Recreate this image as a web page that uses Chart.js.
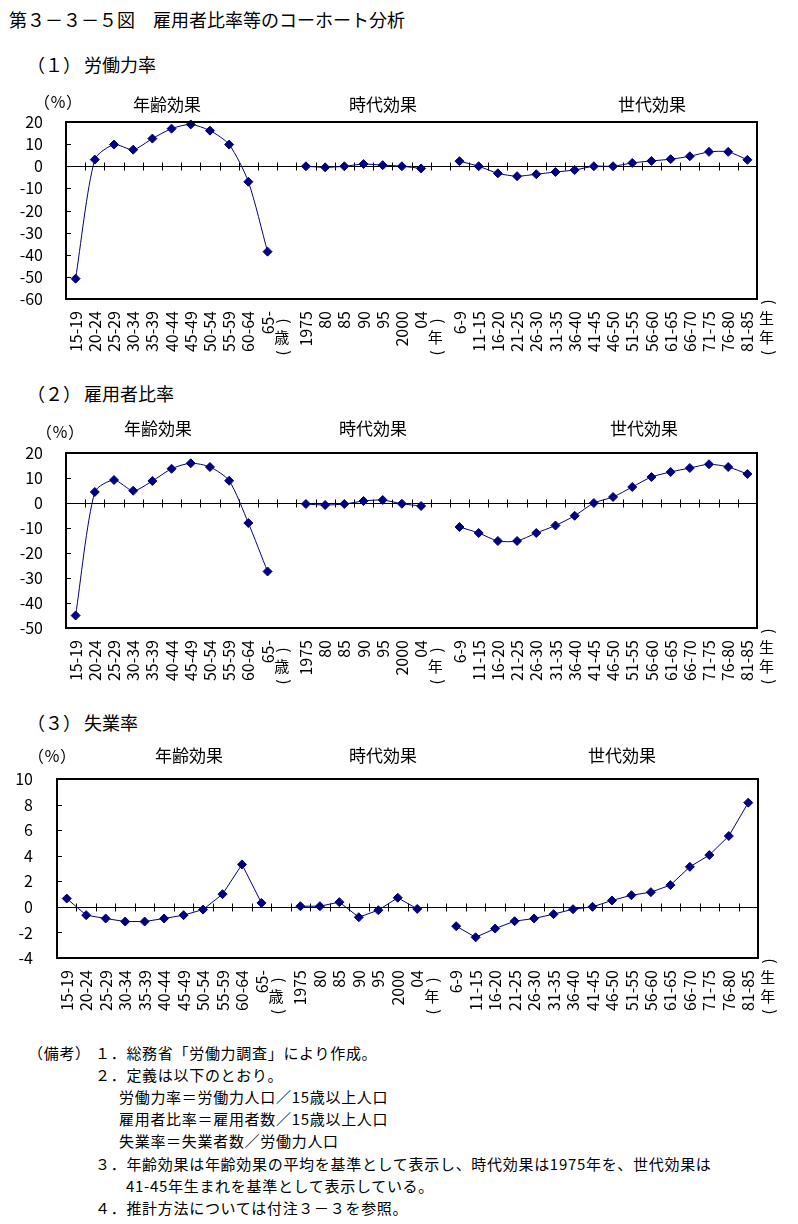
<!DOCTYPE html>
<html lang="ja">
<head>
<meta charset="utf-8">
<script src="https://cdn.jsdelivr.net/npm/chart.js@4.4.1/dist/chart.umd.min.js"></script>
<style>
  body { margin: 0; background: #fff; }
  #page { position: relative; width: 798px; height: 1224px; overflow: hidden; background: #fff;
          font-family: "Noto Sans CJK JP", sans-serif; color: #000; }
  .t { position: absolute; white-space: nowrap; line-height: 1; z-index: 2; }
  .c { transform: translateX(-50%); }
  .h0 { font-size: 18px; }
  .h1 { font-size: 18px; }
  .h1 span { margin-left: 3px; }
  .eff { font-size: 17px; }
  .pct { font-size: 16px; }
  .note { font-size: 15px; letter-spacing: 0.7px; }
  canvas { position: absolute; left: 0; z-index: 1; }
</style>
</head>
<body>
<div id="page">
  <div class="t h0" style="left:9px;top:10px">第３－３－５図　雇用者比率等のコーホート分析</div>

  <!-- (1) -->
  <div class="t h1" style="left:27px;top:55px">（１）<span>労働力率</span></div>
  <div class="t pct" style="left:34px;top:93px">（％）</div>
  <div class="t eff c" style="left:167px;top:95px">年齢効果</div>
  <div class="t eff c" style="left:383px;top:95px">時代効果</div>
  <div class="t eff c" style="left:652px;top:95px">世代効果</div>
  <canvas id="c1" width="798" height="279" style="top:85px"></canvas>

  <!-- (2) -->
  <div class="t h1" style="left:27px;top:384px">（２）<span>雇用者比率</span></div>
  <div class="t pct" style="left:36px;top:423px">（％）</div>
  <div class="t eff c" style="left:158px;top:419px">年齢効果</div>
  <div class="t eff c" style="left:373px;top:419px">時代効果</div>
  <div class="t eff c" style="left:644px;top:419px">世代効果</div>
  <canvas id="c2" width="798" height="278" style="top:415px"></canvas>

  <!-- (3) -->
  <div class="t h1" style="left:27px;top:713px">（３）<span>失業率</span></div>
  <div class="t pct" style="left:28px;top:747px">（％）</div>
  <div class="t eff c" style="left:189px;top:746px">年齢効果</div>
  <div class="t eff c" style="left:383px;top:746px">時代効果</div>
  <div class="t eff c" style="left:622px;top:746px">世代効果</div>
  <canvas id="c3" width="798" height="283" style="top:740px"></canvas>

  <!-- notes -->
  <div class="t note" style="left:28px;top:1045px">（備考）</div>
  <div class="t note" style="left:95px;top:1045px">１．総務省「労働力調査」により作成。</div>
  <div class="t note" style="left:95px;top:1067px">２．定義は以下のとおり。</div>
  <div class="t note" style="left:119px;top:1089px">労働力率＝労働力人口／15歳以上人口</div>
  <div class="t note" style="left:119px;top:1111px">雇用者比率＝雇用者数／15歳以上人口</div>
  <div class="t note" style="left:119px;top:1133px">失業率＝失業者数／労働力人口</div>
  <div class="t note" style="left:95px;top:1156px">３．年齢効果は年齢効果の平均を基準として表示し、時代効果は1975年を、世代効果は</div>
  <div class="t note" style="left:126px;top:1178px">41-45年生まれを基準として表示している。</div>
  <div class="t note" style="left:95px;top:1200px">４．推計方法については付注３－３を参照。</div>
</div>

<script>
// categories: age groups, (歳), survey years, (年), birth cohorts
const categories = [
  '15-19', '20-24', '25-29', '30-34', '35-39', '40-44', '45-49', '50-54', '55-59', '60-64', '65-',
  '（歳）',
  '1975', '80', '85', '90', '95', '2000', '04',
  '（年）',
  '6-9', '11-15', '16-20', '21-25', '26-30', '31-35', '36-40', '41-45',
  '46-50', '51-55', '56-60', '61-65', '66-70', '71-75', '76-80', '81-85'
];
const unitLabels = ['（歳）', '（年）'];
const cohortUnit = '（年生）';

// (1) 労働力率
const laborForceRate = [
  -50.8, 3.0, 9.8, 7.5, 12.5, 17.0, 18.9, 16.1, 9.8, -7.0, -38.6,
  null,
  0, -0.5, 0, 1.0, 0.5, 0, -1.0,
  null,
  2.3, 0, -3.2, -4.5, -3.6, -2.6, -1.7, 0,
  0, 1.5, 2.4, 3.2, 4.5, 6.5, 6.5, 2.9
];
// (2) 雇用者比率
const employeeRatio = [
  -45.0, 4.4, 9.2, 4.9, 8.8, 13.7, 15.9, 14.4, 8.9, -8.0, -27.4,
  null,
  -0.4, -0.8, -0.4, 0.8, 1.2, -0.3, -1.2,
  null,
  -9.6, -12.0, -15.2, -15.2, -12.0, -9.0, -5.1, 0,
  2.4, 6.4, 10.4, 12.4, 14.0, 15.5, 14.4, 11.6
];
// (3) 失業率
const unemploymentRate = [
  0.65, -0.65, -0.91, -1.15, -1.15, -0.91, -0.65, -0.21, 0.99, 3.32, 0.31,
  null,
  0.05, 0.05, 0.37, -0.81, -0.26, 0.71, -0.16,
  null,
  -1.51, -2.38, -1.70, -1.12, -0.91, -0.57, -0.18, 0,
  0.50, 0.91, 1.15, 1.70, 3.13, 4.05, 5.54, 8.15
];

const laborTicks = [20, 10, 0, -10, -20, -30, -40, -50, -60];
const employeeTicks = [20, 10, 0, -10, -20, -30, -40, -50];
const unemploymentTicks = [10, 8, 6, 4, 2, 0, -2, -4];

const FONT = '"Noto Sans CJK JP", sans-serif';
const NAVY = '#000080';

// draws a label like （年生） as vertical text: parens turned, kanji upright
function drawVerticalLabel(ctx, text, cx, bottomY) {
  const chars = Array.from(text);
  ctx.save();
  ctx.fillStyle = '#000';
  ctx.font = '15px ' + FONT;
  ctx.textAlign = 'center';
  ctx.textBaseline = 'middle';
  let y = bottomY;
  chars.forEach((ch, i) => {
    const isParen = ch === '（' || ch === '）';
    if (i > 0) {
      const prevParen = chars[i - 1] === '（' || chars[i - 1] === '）';
      y -= (isParen || prevParen) ? 16 : 19;
    }
    if (isParen) {
      ctx.save();
      ctx.translate(cx, y);
      ctx.rotate(-Math.PI / 2);
      ctx.fillText(ch === '（' ? '(' : ')', 0, 1);
      ctx.restore();
    } else {
      ctx.fillText(ch, cx, y);
    }
  });
  ctx.restore();
}

const excelLook = {
  id: 'excelLook',
  beforeDatasetsDraw(chart) {
    const ctx = chart.ctx;
    const a = chart.chartArea;
    const x = chart.scales.x;
    const y = chart.scales.y;
    const y0 = Math.round(y.getPixelForValue(0)) + 0.5;
    ctx.save();
    ctx.strokeStyle = '#000';
    ctx.lineWidth = 1;
    ctx.beginPath();
    ctx.moveTo(a.left, y0);
    ctx.lineTo(a.right, y0);
    // category ticks crossing the zero line
    const n = chart.data.labels.length;
    for (let i = 0; i < n - 1; i++) {
      const bx = Math.round((x.getPixelForValue(i) + x.getPixelForValue(i + 1)) / 2) + 0.5;
      ctx.moveTo(bx, y0 - 4);
      ctx.lineTo(bx, y0 + 4);
    }
    // inside ticks on the value axis
    y.ticks.forEach(t => {
      const ty = Math.round(y.getPixelForValue(t.value)) + 0.5;
      ctx.moveTo(a.left, ty);
      ctx.lineTo(a.left + 5, ty);
    });
    ctx.stroke();
    ctx.restore();
  },
  afterDraw(chart) {
    const ctx = chart.ctx;
    const a = chart.chartArea;
    const x = chart.scales.x;
    ctx.save();
    ctx.strokeStyle = '#000';
    ctx.lineWidth = 2;
    ctx.strokeRect(a.left, a.top, a.right - a.left, a.bottom - a.top);
    ctx.restore();

    const labels = chart.data.labels;
    labels.forEach((l, i) => {
      if (unitLabels.includes(l)) {
        drawVerticalLabel(ctx, l, x.getPixelForValue(i) - 5, a.bottom + 54);
      }
    });
    const last = labels.length - 1;
    const step = x.getPixelForValue(last) - x.getPixelForValue(last - 1);
    drawVerticalLabel(ctx, cohortUnit, x.getPixelForValue(last) + step, a.bottom + 54);
  }
};

function makeChart(id, values, yTicks, cfg) {
  const ctx = document.getElementById(id).getContext('2d');
  return new Chart(ctx, {
    type: 'line',
    data: {
      labels: categories,
      datasets: [{
        data: values,
        borderColor: NAVY,
        backgroundColor: NAVY,
        borderWidth: 1,
        tension: cfg.tension,
        spanGaps: false,
        pointStyle: 'rectRot',
        pointRadius: 4.5,
        pointBorderWidth: 1,
        pointBackgroundColor: NAVY,
        pointBorderColor: NAVY,
        clip: false
      }]
    },
    options: {
      responsive: false,
      animation: false,
      layout: { padding: { top: cfg.top, left: 0, right: 798 - cfg.right, bottom: 0 } },
      plugins: { legend: { display: false }, tooltip: { enabled: false } },
      scales: {
        x: {
          type: 'category',
          offset: true,
          grid: { display: false, drawTicks: false },
          border: { display: false },
          ticks: {
            autoSkip: false,
            minRotation: 90,
            maxRotation: 90,
            padding: 12,
            color: '#000',
            font: { family: FONT, size: 16 },
            callback: function(v) {
              const l = this.getLabelForValue(v);
              return unitLabels.includes(l) ? '' : l;
            }
          },
          afterFit: s => { s.height = 65; }
        },
        y: {
          min: Math.min(...yTicks),
          max: Math.max(...yTicks),
          grid: { display: false, drawTicks: false },
          border: { display: false },
          ticks: {
            autoSkip: false,
            stepSize: yTicks[0] - yTicks[1],
            padding: cfg.yPad,
            color: '#000',
            font: { family: FONT, size: 16 }
          },
          afterFit: s => { s.width = cfg.left; }
        }
      }
    },
    plugins: [excelLook]
  });
}

makeChart('c1', laborForceRate, laborTicks, { top: 37, left: 66, right: 757, yPad: 23, tension: 0.25 });
makeChart('c2', employeeRatio, employeeTicks, { top: 38, left: 66, right: 757, yPad: 23, tension: 0.25 });
makeChart('c3', unemploymentRate, unemploymentTicks, { top: 39, left: 57, right: 758, yPad: 24, tension: 0 });
</script>
</body>
</html>
